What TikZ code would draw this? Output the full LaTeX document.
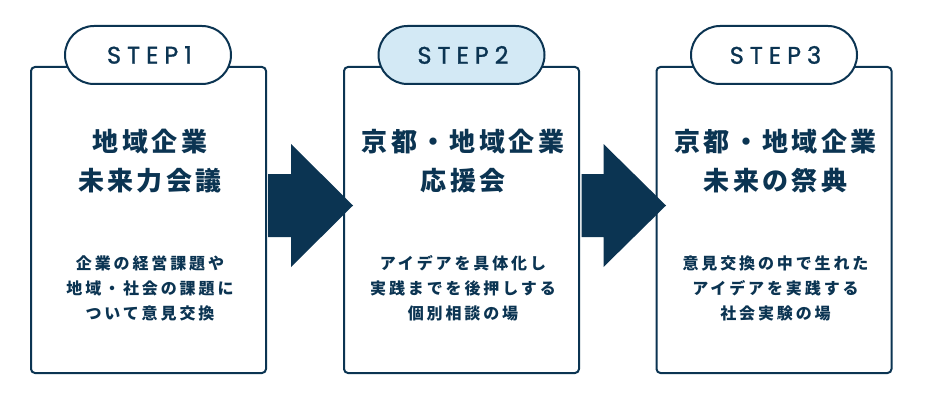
\documentclass[tikz,border=0pt]{standalone}
\usepackage{fontspec}
\newfontfamily\jptitle[LetterSpace=13]{Noto Sans CJK JP}
\newfontfamily\jpbody[LetterSpace=18]{Noto Sans CJK JP}
\newfontfamily\stepfont[LetterSpace=25,FakeBold=1.2]{Poppins}
\definecolor{navy}{HTML}{0B3452}
\definecolor{pillblue}{HTML}{D3E9F5}
\begin{document}
\begin{tikzpicture}[x=1pt,y=-1pt,
  box/.style={draw=navy, line width=2pt, rounded corners=4pt, minimum width=235pt, minimum height=306pt, inner sep=0pt, fill=white},
  pill/.style={draw=navy, line width=2pt, rounded corners=29pt, minimum width=166pt, minimum height=58pt, inner sep=0pt, fill=white, text=navy, font=\stepfont\fontsize{24}{24}\selectfont},
  title/.style={text=navy, align=center, font=\jptitle\bfseries\fontsize{26}{39}\selectfont, inner sep=0pt},
  body/.style={text=navy, align=center, font=\jpbody\bfseries\fontsize{16}{25}\selectfont, inner sep=0pt},
  flow/.style={fill=navy}
]
\useasboundingbox (0,0) rectangle (925,393);
% boxes
\node[box] (b1) at (148.5,220) {};
\node[box] (b2) at (461.5,220) {};
\node[box] (b3) at (774,220) {};
% pills
\node[pill] (p1) at (148,55) {\hspace{3pt}STEP1};
\node[pill, fill=pillblue] (p2) at (461.5,55) {\hspace{3pt}STEP2};
\node[pill] (p3) at (774,55) {\hspace{3pt}STEP3};
% titles
\node[title] (t1) at (150,161.5) {地域企業\\未来力会議};
\node[title] (t2) at (463,161.5) {京都・地域企業\\応援会};
\node[title] (t3) at (775.5,161.5) {京都・地域企業\\未来の祭典};
% bodies
\node[body] (d1) at (150,288) {企業の経営課題や\\地域・社会の課題に\\ついて意見交換};
\node[body] (d2) at (463,288) {アイデアを具体化し\\実践までを後押しする\\個別相談の場};
\node[body] (d3) at (775.5,288) {意見交換の中で生れた\\アイデアを実践する\\社会実験の場};
% arrows
\coordinate (a1) at ([xshift=1pt,yshift=14.5pt]b1.east);
\coordinate (a2) at ([xshift=1.5pt,yshift=14.5pt]b2.east);
\fill[flow] (a1) ++(0,-31.5) -- ++(23,0) -- ++(0,-30) -- ++(62,61.5) -- ++(-62,61.5) -- ++(0,-30) -- ++(-23,0) -- cycle;
\fill[flow] (a2) ++(0,-31.5) -- ++(22,0) -- ++(0,-30) -- ++(62.5,61.5) -- ++(-62.5,61.5) -- ++(0,-30) -- ++(-22,0) -- cycle;
\end{tikzpicture}
\end{document}
